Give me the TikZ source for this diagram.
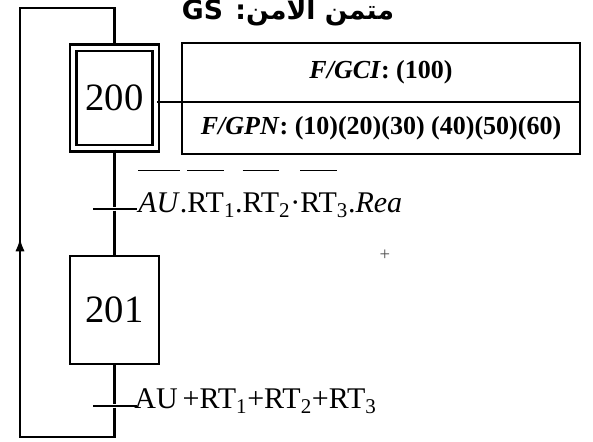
\documentclass[tikz,border=0pt]{standalone}
\usepackage{fontspec}
\setmainfont{Liberation Serif}
\newfontfamily\arabicfont[Script=Arabic]{DejaVu Sans}
\TeXXeTstate=1
\usetikzlibrary{positioning,arrows.meta}
\newcommand{\inv}[1]{\ensuremath{\overline{\rule{0pt}{1.35em}\hbox{#1}}}}

\begin{document}
\begin{tikzpicture}[
    x=0.75pt, y=-0.75pt,
    stepbox/.style={rectangle, draw, line width=1.8pt, minimum width=66.5pt, minimum height=80.7pt,
                    inner sep=0pt, font=\fontsize{29}{30}\selectfont},
    initstep/.style={stepbox, double, double distance=3.2pt, minimum width=62pt, minimum height=75.5pt},
    actbox/.style={rectangle, draw, line width=1.8pt, minimum width=298.5pt, inner sep=0pt, outer sep=0pt,
                   font=\fontsize{19.5}{21}\selectfont\bfseries},
    transbar/.style={rectangle, fill, minimum width=33pt, minimum height=2pt, inner sep=0pt},
    condlbl/.style={anchor=base west, inner sep=0pt, font=\fontsize{22.5}{24}\selectfont},
    wire/.style={line width=1.8pt},
    flow/.style={-{Latex[length=10pt, width=7pt]}, line width=1.8pt},
]
    \useasboundingbox (0,0) rectangle (593,442);
    \clip (0,0) rectangle (593,442);

    % title
    \node[anchor=base, inner sep=0pt, font=\arabicfont\bfseries\fontsize{20}{22}\selectfont] (title)
        at (288,20) {\beginR متمن الأمن: \beginL GS\endL\endR};

    % steps and actions
    \node[initstep] (s200) at (114.5,98) {200};
    \node[stepbox] (s201) at (114.5,310) {201};
    \node[actbox, minimum height=44.25pt, anchor=north west] (gci) at (182,43) {\textit{F/GCI}: (100)};
    \node[actbox, minimum height=39pt, below=0pt of gci] (gpn) {\textit{F/GPN}: (10)(20)(30) (40)(50)(60)};

    % transitions
    \node[transbar] (t1) at (114.5,209) {};
    \node[transbar] (t2) at (114.5,406) {};
    \node[condlbl] (c1) at ([xshift=1pt, yshift=-3pt]t1.east)
        {\inv{\textit{AU}}.\inv{RT}\textsubscript{1}.\inv{RT}\textsubscript{2}·\inv{RT}\textsubscript{3}.\textit{Rea}};
    \node[condlbl] (c2) at ([xshift=-2pt, yshift=-2pt]t2.east)
        {AU\,+RT\textsubscript{1}+RT\textsubscript{2}+RT\textsubscript{3}};
    \node[inner sep=0pt, text=black!70, font=\fontsize{14}{14}\selectfont] (mark) at (385,255) {+};

    % loop back
    \coordinate (loopB) at (20,437);
    \coordinate (loopT) at (20,8);
    \coordinate (tip) at (20,238);

    \draw[wire] (s200) -- (t1) -- (s201);
    \draw[wire] (s201) -- (t2) |- (loopB) -- (loopT) -| (s200);
    \draw[wire] (gci.south west) -- (gci.south west -| s200.east);
    \draw[flow] (loopB) -- (tip);
\end{tikzpicture}
\end{document}
